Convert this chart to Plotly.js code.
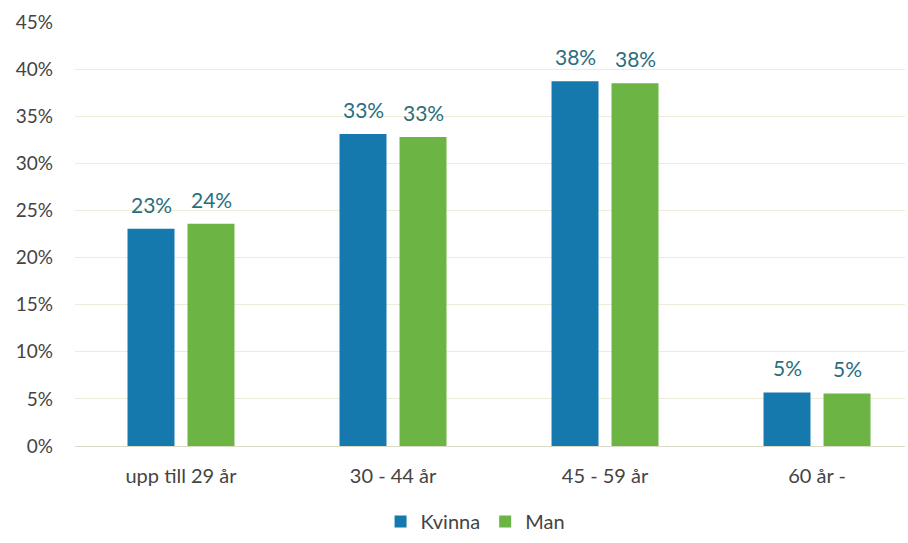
<!DOCTYPE html>
<html><head><meta charset="utf-8">
<script src="https://cdn.plot.ly/plotly-3.0.1.min.js"></script>
<style>html,body{margin:0;padding:0;background:#fff;}#chart{width:908px;height:543px;}</style>
</head><body><div id="chart"></div>
<script>
var categories = ["upp till 29 år", "30 - 44 år", "45 - 59 år", "60 år -"];
var kvinnaValues = [0.2306, 0.331, 0.387, 0.0568];
var manValues = [0.236, 0.328, 0.385, 0.0558];
var kvinnaLabels = ["23%", "33%", "38%", "5%"];
var manLabels = ["24%", "33%", "38%", "5%"];
var tickVals = [0, 0.05, 0.10, 0.15, 0.20, 0.25, 0.30, 0.35, 0.40, 0.45];
var tickText = ["0%", "5%", "10%", "15%", "20%", "25%", "30%", "35%", "40%", "45%"];

var font = "Lato, 'Open Sans', sans-serif";
var labelFont = {family: font, size: 21, color: "#2b6d7e"};

var traces = [
  {type: "bar", name: "Kvinna", x: categories, y: kvinnaValues,
   marker: {color: "#1579ad"}, hoverinfo: "none"},
  {type: "bar", name: "Man", x: categories, y: manValues,
   marker: {color: "#6cb544"}, hoverinfo: "none"}
];

var annotations = [];
function addLabels(vals, labels, shift) {
  for (var i = 0; i < categories.length; i++) {
    annotations.push({x: categories[i], y: vals[i], xref: "x", yref: "y", text: labels[i],
      showarrow: false, xanchor: "center", yanchor: "bottom", xshift: shift, yshift: 10,
      font: labelFont});
  }
}
addLabels(kvinnaValues, kvinnaLabels, -30);
addLabels(manValues, manLabels, 30);

var layout = {
  width: 908, height: 543,
  margin: {l: 75, r: 3, t: 22, b: 96},
  paper_bgcolor: "#fff", plot_bgcolor: "#fff",
  barmode: "group", bargap: 0.434, bargroupgap: 0.217,
  showlegend: true,
  annotations: annotations,
  legend: {orientation: "h", x: 0.482, xanchor: "center", y: -0.175, yanchor: "middle",
           font: {family: font, size: 20, color: "#444"}, itemwidth: 30, traceorder: "normal"},
  xaxis: {type: "category", range: [-0.5, 3.415], showgrid: false, showline: false, zeroline: false,
          ticks: "", ticklabelstandoff: 16,
          tickfont: {family: font, size: 20, color: "#444"}, automargin: false},
  yaxis: {range: [0, 0.45], tickvals: tickVals, ticktext: tickText, showgrid: true,
          gridcolor: "#ecedd8", gridwidth: 1, zeroline: true, zerolinecolor: "#d9dac6",
          showline: false, ticks: "", ticklabelstandoff: 21,
          tickfont: {family: font, size: 19, color: "#444"}, automargin: false}
};

Plotly.newPlot("chart", traces, layout, {displayModeBar: false, staticPlot: true});
</script>
</body></html>
